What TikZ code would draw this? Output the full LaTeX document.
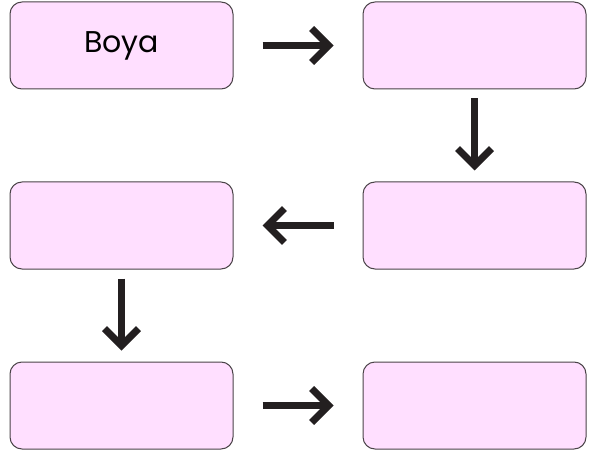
\documentclass[tikz,border=0pt]{standalone}
\usepackage{fontspec}
\setmainfont{Poppins}
\usepackage{tikz}
\usetikzlibrary{arrows.meta,positioning}
\definecolor{boxpink}{HTML}{FFDFFF}
\definecolor{boxline}{HTML}{4A4348}
\definecolor{arrowink}{HTML}{231F20}
\tikzset{%
pinkbox/.style={rectangle, rounded corners=12pt, draw=boxline, line width=1pt, fill=boxpink, minimum width=223pt, minimum height=87pt, inner sep=0pt, font=\fontsize{30}{32}\selectfont},
flow/.style={draw=arrowink, line width=7pt, -{Straight Barb[length=17pt,width=34pt]}},
sideflow/.style={flow, shorten <=29pt, shorten >=29pt},
downflow/.style={flow, shorten <=9pt, shorten >=11pt}
}
\begin{document}
\begin{tikzpicture}
	\useasboundingbox (0,0) rectangle (601pt,-454pt);
	\node[pinkbox] (boya) at (121.5pt,-45.5pt) {\raisebox{-2pt}{Boya}};
	\node[pinkbox] (second) [right=129pt of boya] {};
	\node[pinkbox] (third) [below=92pt of second] {};
	\node[pinkbox] (fourth) [left=129pt of third] {};
	\node[pinkbox] (fifth) [below=92pt of fourth] {};
	\node[pinkbox] (sixth) [right=129pt of fifth] {};

	\draw[sideflow] (boya) -- (second);
	\draw[downflow] (second) -- (third);
	\draw[sideflow] (third) -- (fourth);
	\draw[downflow] (fourth) -- (fifth);
	\draw[sideflow] (fifth) -- (sixth);
\end{tikzpicture}
\end{document}
